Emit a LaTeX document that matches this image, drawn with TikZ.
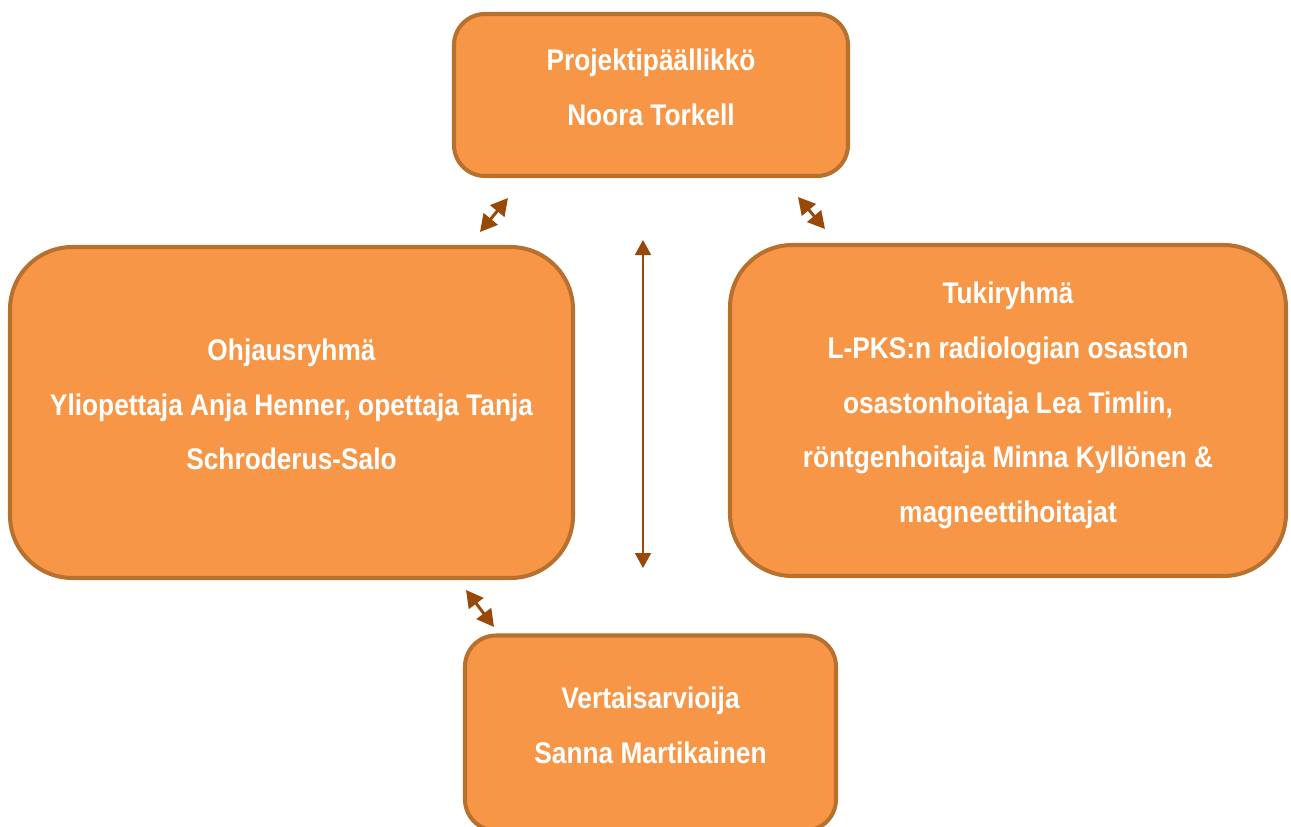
\documentclass[tikz,border=0pt]{standalone}
\usepackage{xcolor}
\usepackage{fontspec}
\setmainfont{Liberation Sans}[FakeStretch=0.88]
\usepackage{tikz}
\usetikzlibrary{arrows.meta}
\definecolor{box-fill}{HTML}{F79646}
\definecolor{box-line}{HTML}{B8702F}
\definecolor{arrow-brown}{HTML}{984807}
\tikzstyle{b}=[rectangle,fill=box-fill,draw=box-line,line width=2.3pt,text=white,align=center,font=\fontsize{17}{31.2}\selectfont\bfseries]
\tikzstyle{small}=[rounded corners=0.62cm,minimum width=7.88cm]
\tikzstyle{big}=[rounded corners=1.25cm,minimum height=6.62cm]
\tikzstyle{e}=[arrow-brown,line width=1.7pt,arrows={Triangle[length=0.34cm,width=0.36cm]-Triangle[length=0.34cm,width=0.36cm]}]
\tikzstyle{long}=[line width=1.1pt,arrows={Triangle[length=0.3cm,width=0.32cm]-Triangle[length=0.3cm,width=0.32cm]}]

\begin{document}
\begin{tikzpicture}
\useasboundingbox (0,0) rectangle (25.82,-16.54);

% Nodes
\node[b,small,minimum height=3.24cm] (leader)  at (13.02,-1.90)  {Projektipäällikkö\\Noora Torkell\strut};
\node[b,big,minimum width=11.26cm]   (steering) at (5.83,-8.25)  {Ohjausryhmä\\Yliopettaja Anja Henner, opettaja Tanja\\Schroderus-Salo\strut};
\node[b,big,minimum width=11.12cm]   (support) at (20.16,-8.21)  {Tukiryhmä\\L-PKS:n radiologian osaston\\osastonhoitaja Lea Timlin,\\röntgenhoitaja Minna Kyllönen \&\\magneettihoitajat\strut};
\node[b,small,minimum width=7.42cm,minimum height=3.9cm] (peer) at (13.01,-14.66) {Vertaisarvioija\\Sanna Martikainen\strut};

% Arrow ends
\coordinate (steering top) at (9.60,-4.64);
\coordinate (leader left)  at (10.16,-3.96);
\coordinate (leader right) at (15.96,-3.94);
\coordinate (support top)  at (16.50,-4.58);
\coordinate (middle top)   at (12.86,-4.80);
\coordinate (middle down)  at (12.86,-11.36);
\coordinate (steering low) at (9.32,-11.80);
\coordinate (peer top)     at (9.88,-12.54);

% Edges
\draw[e] (steering top) -- (leader left);
\draw[e] (leader right) -- (support top);
\draw[e,long] (middle top) -- (middle down);
\draw[e] (steering low) -- (peer top);

\end{tikzpicture}
\end{document}
